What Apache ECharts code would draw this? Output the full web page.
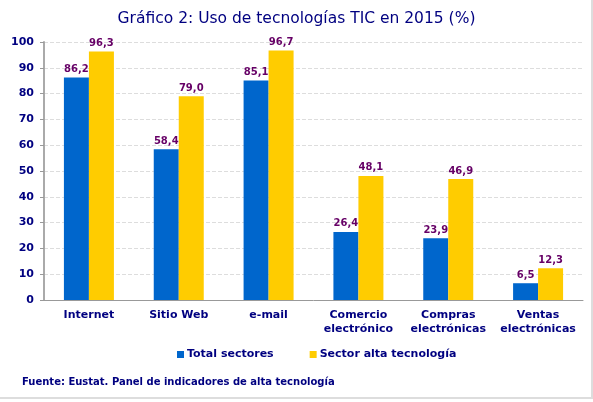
<!DOCTYPE html>
<html>
<head>
<meta charset="utf-8">
<script src="https://cdn.jsdelivr.net/npm/echarts@6/dist/echarts.min.js"></script>
<style>
  html, body { margin: 0; padding: 0; background: #fff; }
  #chart { width: 593px; height: 402px; }
  #frame { position: absolute; left: 0; top: 0; width: 591px; height: 397px; border-right: 2px solid #ddd; border-bottom: 2px solid #ddd; pointer-events: none; }
</style>
</head>
<body>
<div id="chart"></div>
<div id="frame"></div>
<script>
var categories = ['Internet', 'Sitio Web', 'e-mail', 'Comercio\nelectrónico', 'Compras\nelectrónicas', 'Ventas\nelectrónicas']
var totalSectores = [86.2, 58.4, 85.1, 26.4, 23.9, 6.5]
var altaTecnologia = [96.3, 79.0, 96.7, 48.1, 46.9, 12.3]
var seriesNames = ['Total sectores', 'Sector alta tecnología']

var navy = '#000080'
var font = 'Verdana, "DejaVu Sans", sans-serif'

var fmt = function (p) { return p.value.toFixed(1).replace('.', ',') }
var labelStyle = {
    show: true,
    position: 'top',
    distance: 3,
    formatter: fmt,
    color: '#660066',
    fontWeight: 'bold',
    fontSize: 10,
    fontFamily: font
}

var chart = echarts.init(document.getElementById('chart'))
chart.setOption({
    animation: false,
    title: {
        text: 'Gráfico 2: Uso de tecnologías TIC en 2015 (%)',
        left: 'center',
        top: 6,
        textStyle: { color: navy, fontSize: 15.5, fontWeight: 'normal', fontFamily: font }
    },
    legend: {
        data: seriesNames,
        bottom: 37,
        left: 172,
        itemWidth: 7,
        itemHeight: 7,
        itemGap: 36,
        icon: 'rect',
        textStyle: { color: navy, fontWeight: 'bold', fontSize: 11, fontFamily: font, padding: [0, 0, 0, -2] }
    },
    graphic: [{
        type: 'text',
        left: 22,
        top: 377,
        style: { text: 'Fuente: Eustat. Panel de indicadores de alta tecnología', fill: navy, font: 'bold 10px ' + font }
    }],
    grid: { left: 44, right: 10, top: 42, bottom: 102 },
    xAxis: {
        type: 'category',
        data: categories,
        axisLine: { lineStyle: { color: '#999' } },
        axisTick: { lineStyle: { color: '#999' } },
        axisLabel: { interval: 0, color: navy, fontWeight: 'bold', fontSize: 11, fontFamily: font, lineHeight: 14, margin: 8 }
    },
    yAxis: {
        type: 'value',
        min: 0,
        max: 100,
        interval: 10,
        axisLine: { show: true, lineStyle: { color: '#aaa', width: 2 } },
        axisTick: { show: true, length: 4, lineStyle: { color: '#999' } },
        axisLabel: { color: navy, fontWeight: 'bold', fontSize: 11, fontFamily: font, margin: 10 },
        splitLine: { lineStyle: { color: '#ddd', type: 'dashed' } }
    },
    series: [{
        name: seriesNames[0],
        type: 'bar',
        data: totalSectores,
        barWidth: 25,
        barGap: '0%',
        itemStyle: { color: '#0066CC' },
        label: labelStyle
    }, {
        name: seriesNames[1],
        type: 'bar',
        data: altaTecnologia,
        barWidth: 25,
        itemStyle: { color: '#FFCC00' },
        label: labelStyle
    }]
})
</script>
</body>
</html>
